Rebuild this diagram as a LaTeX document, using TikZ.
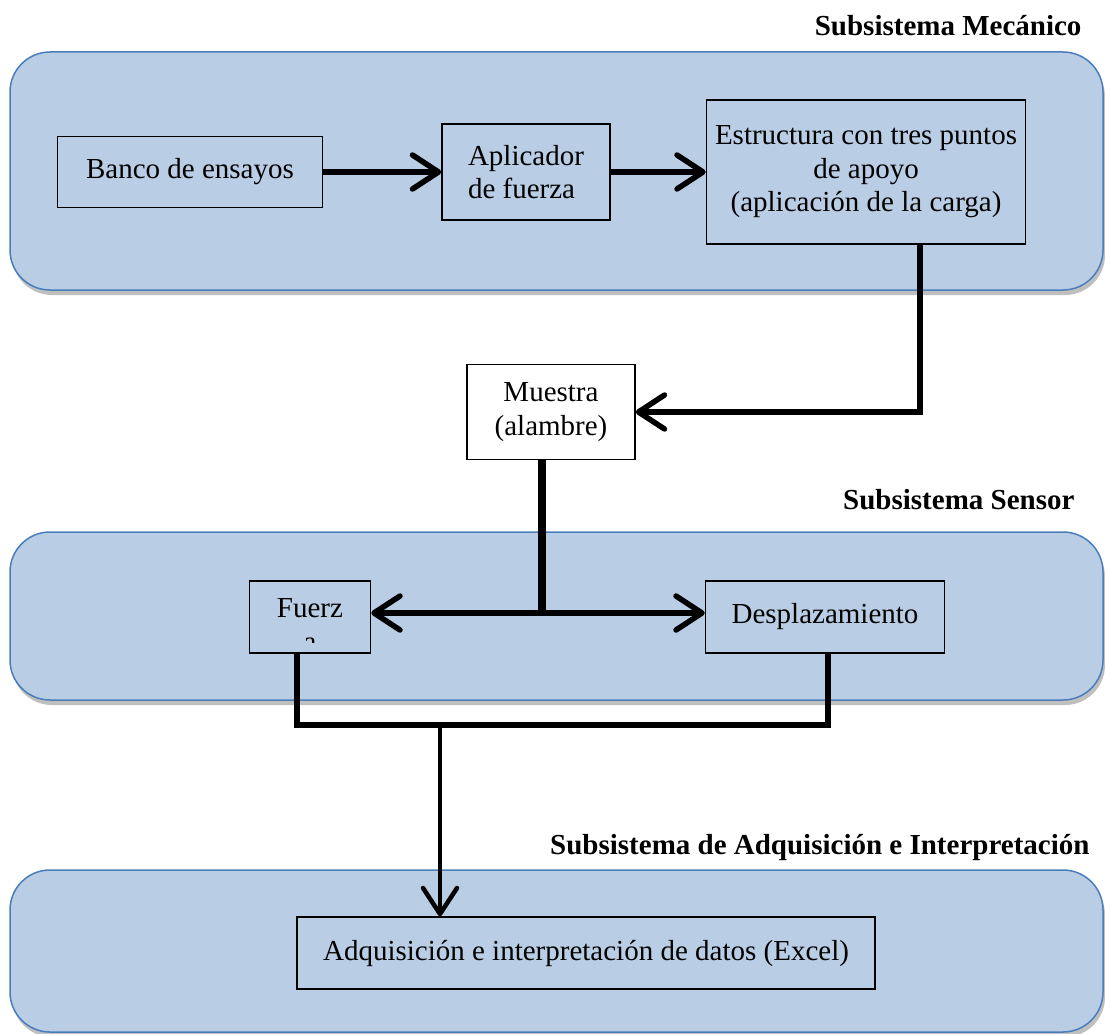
\documentclass[tikz,border=0pt]{standalone}
\usepackage{fontspec}
\setmainfont{Liberation Serif}
\usepackage{xcolor}
\usepackage{tikz}
\usetikzlibrary{arrows.meta,shadows}
\definecolor{panelfill}{HTML}{B9CDE5}
\definecolor{paneldraw}{HTML}{4A7EBB}

\begin{document}
\begin{tikzpicture}[
    x=1pt, y=-1pt,
    >={Straight Barb[length=26pt,width=34pt,round]},
    font=\fontsize{29}{33.5}\selectfont,
    panel/.style={draw=paneldraw, line width=1.5pt, fill=panelfill, rounded corners=40pt,
      drop shadow={shadow xshift=2pt, shadow yshift=-5pt, opacity=0.25, fill=black}},
    box/.style={rectangle, draw, line width=1.5pt, inner sep=0pt, align=center},
    title/.style={anchor=east, font=\fontsize{29}{33.5}\selectfont\bfseries},
    link/.style={line width=5.5pt},
    heavy/.style={line width=7.5pt}
  ]
  \useasboundingbox (0,0) rectangle (1105,1033);

  % Panels
  \draw[panel] (10,52) rectangle (1103,290);
  \draw[panel] (10,532) rectangle (1103,700);
  \draw[panel] (10,870) rectangle (1103,1032);

  \node[title] (tmec) at (1085,26) {Subsistema Mecánico};
  \node[title] (tsen) at (1078,500) {Subsistema Sensor};
  \node[title] (tadq) at (1093,848) {Subsistema de Adquisición e Interpretación};

  % Nodes
  \node[box, minimum width=265pt, minimum height=71pt] (banco) at (190,172) {Banco de ensayos};
  \node[box, minimum width=168pt, minimum height=96pt, align=left] (aplic) at (526,172) {Aplicador\\de fuerza};
  \node[box, minimum width=319pt, minimum height=144pt] (estr) at (866,172) {Estructura con tres puntos\\de apoyo\\(aplicación de la carga)};
  \node[box, minimum width=168pt, minimum height=95pt, fill=white] (muestra) at (551,412) {Muestra\\(alambre)};
  \node[box, minimum width=121pt, minimum height=72pt] (fuerza) at (310,617) {};
  \node (fuerzatxt) at (310,608) {Fuerz};
  \begin{scope}
    \clip (fuerza.north west) rectangle ([yshift=11pt]fuerza.south east);
    \node (fuerzacut) at (310,645) {a};
  \end{scope}
  \node[box, minimum width=239pt, minimum height=72pt] (despl) at (825,617) {Desplazamiento};
  \node[box, minimum width=578pt, minimum height=72pt] (adq) at (586,953) {Adquisición e interpretación de datos (Excel)};

  \coordinate (split) at (542,613);
  \coordinate (join) at (440,725);

  % Edges
  \draw[->, link] (banco) -- (aplic);
  \draw[->, link] (aplic) -- (estr);
  \draw[->, link] ([xshift=54pt]estr.south) |- (muestra.east);
  \draw[heavy] ([xshift=-9pt]muestra.south) -- (split);
  \draw[->, link] (split) -- (split -| fuerza.east);
  \draw[->, link] (split) -- (split -| despl.west);
  \draw[link] ([xshift=-13pt]fuerza.south) |- (join) -| ([xshift=3pt]despl.south);
  \draw[->, line width=4.5pt] (join) -- (join |- adq.north);

\end{tikzpicture}
\end{document}
